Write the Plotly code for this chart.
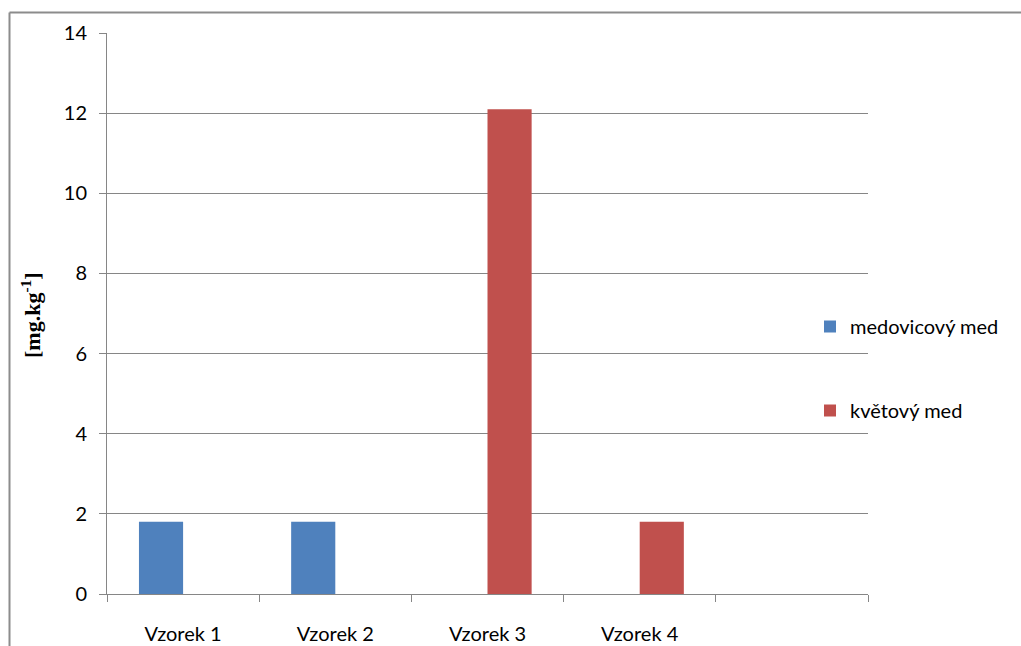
import plotly.graph_objects as go

# Sample labels; the axis keeps one extra empty slot on the right
categories = ["Vzorek 1", "Vzorek 2", "Vzorek 3", "Vzorek 4"]
positions = [0, 1, 2, 3]
n_slots = 5

# Concentrations in mg/kg
medovicovy = [1.8, 1.8, None, None]
kvetovy = [None, None, 12.1, 1.8]

series_names = ["medovicový med", "květový med"]
colors = ["#4F81BD", "#C0504D"]

W, H = 1021, 646
L, R, T, B = 107, 153, 33, 52
pw, ph = W - L - R, H - T - B

def px_x(x):
    return (x - L) / pw

def px_y(y):
    return (H - B - y) / ph

font = "Lato, Carlito, Calibri, sans-serif"
grey = "#868686"

fig = go.Figure()
for i, (name, vals) in enumerate(zip(series_names, [medovicovy, kvetovy])):
    fig.add_trace(go.Bar(
        x=positions, y=vals, name=name,
        marker=dict(color=colors[i], line=dict(width=0)),
        legendgroup=f"g{i}",
    ))

fig.update_layout(
    width=W, height=H,
    margin=dict(l=L, r=R, t=T, b=B, pad=0, autoexpand=False),
    paper_bgcolor="white", plot_bgcolor="white",
    barmode="group", bargap=0.42, bargroupgap=0,
    font=dict(family=font, size=20, color="black"),
    showlegend=True,
    legend=dict(
        x=px_x(810), y=px_y(307), xanchor="left", yanchor="top",
        tracegroupgap=55, font=dict(size=20), bgcolor="rgba(0,0,0,0)",
    ),
    xaxis=dict(
        range=[-0.5, n_slots - 0.5], tickmode="array", tickvals=positions, ticktext=categories,
        ticks="", showline=True, linecolor=grey, linewidth=1, automargin=False,
        showgrid=False, zeroline=False, ticklabelstandoff=22,
        minor=dict(tickmode="linear", tick0=-0.5, dtick=1, ticks="outside",
                   ticklen=7, tickcolor=grey, tickwidth=1, showgrid=False),
    ),
    yaxis=dict(
        range=[0, 14], dtick=2, tick0=0, showline=True, linecolor=grey, linewidth=1,
        ticks="outside", ticklen=7, tickcolor=grey, tickwidth=1, automargin=False,
        showgrid=True, gridcolor=grey, gridwidth=1, zeroline=False,
        ticklabelstandoff=8,
    ),
    annotations=[dict(
        text="<b>[mg.kg<sup>-1</sup>]</b>", textangle=-90,
        x=px_x(31), y=px_y(315), xref="paper", yref="paper",
        xanchor="center", yanchor="middle", showarrow=False,
        font=dict(family="Liberation Serif, Times New Roman, serif", size=22, color="black"),
    )],
    shapes=[
        dict(type="line", xref="paper", yref="paper",
             x0=px_x(9.5), x1=px_x(1030), y0=px_y(12.5), y1=px_y(12.5),
             line=dict(color="#8C8C8C", width=2)),
        dict(type="line", xref="paper", yref="paper",
             x0=px_x(9.5), x1=px_x(9.5), y0=px_y(12.5), y1=px_y(660),
             line=dict(color="#8C8C8C", width=2)),
    ],
)

fig.write_html("out.html")
